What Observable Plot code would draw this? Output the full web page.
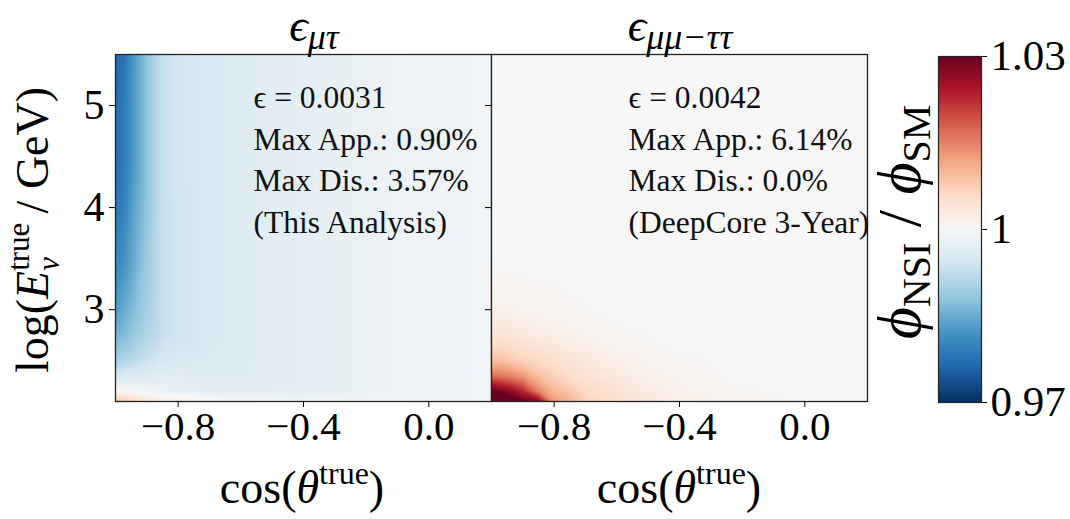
<!DOCTYPE html>
<html><head><meta charset="utf-8">
<script src="https://cdn.jsdelivr.net/npm/d3@7"></script>
<script src="https://cdn.jsdelivr.net/npm/@observablehq/plot@0.6"></script>
<style>
html,body{margin:0;padding:0;background:#fff;}
#wrap{position:relative;width:1070px;height:519px;overflow:hidden;font-family:"Liberation Serif",serif;}
#wrap svg{position:absolute;left:0;top:0;}
</style></head><body><div id="wrap"></div>
<script>
// ---- data ----
const cosGrid  = [-1.0, -0.97, -0.94, -0.9, -0.85, -0.8, -0.7, -0.55, -0.4, -0.2, 0.0, 0.2];
const logEGrid = [2.1, 2.2, 2.35, 2.5, 2.75, 3.0, 3.5, 4.0, 4.5, 5.0, 5.5];
// rows follow logEGrid (bottom -> top), columns follow cosGrid
const ratioMuTau = [
  [1.009, 1.008, 1.007, 1.005, 1.003, 1.002, 1.0005, 0.999, 0.9985, 0.9985, 0.999, 0.999],
  [1.000, 1.000, 0.9995, 0.999, 0.998, 0.9975, 0.997, 0.997, 0.997, 0.998, 0.9985, 0.999],
  [0.995, 0.9955, 0.996, 0.9965, 0.997, 0.997, 0.9965, 0.9965, 0.997, 0.998, 0.9985, 0.999],
  [0.990, 0.991, 0.992, 0.9935, 0.995, 0.9955, 0.996, 0.9965, 0.997, 0.998, 0.9985, 0.999],
  [0.986, 0.987, 0.989, 0.991, 0.993, 0.994, 0.9955, 0.9965, 0.997, 0.998, 0.9985, 0.999],
  [0.983, 0.985, 0.987, 0.990, 0.993, 0.994, 0.9955, 0.9965, 0.997, 0.998, 0.9985, 0.999],
  [0.980, 0.982, 0.985, 0.989, 0.993, 0.994, 0.9955, 0.9965, 0.997, 0.998, 0.9985, 0.999],
  [0.978, 0.980, 0.984, 0.988, 0.993, 0.994, 0.9955, 0.9965, 0.997, 0.998, 0.9985, 0.999],
  [0.977, 0.979, 0.983, 0.988, 0.993, 0.9945, 0.9955, 0.9965, 0.997, 0.998, 0.9985, 0.999],
  [0.977, 0.979, 0.983, 0.988, 0.993, 0.9945, 0.9955, 0.9965, 0.997, 0.998, 0.9985, 0.999],
  [0.976, 0.978, 0.983, 0.988, 0.993, 0.9945, 0.9955, 0.9965, 0.997, 0.998, 0.9985, 0.999]
];
const ratioMuMuTauTau = [
  [1.034, 1.033, 1.032, 1.030, 1.027, 1.013, 1.007, 1.004, 1.002, 1.001, 1.0, 1.0],
  [1.030, 1.029, 1.027, 1.023, 1.015, 1.010, 1.006, 1.003, 1.0015, 1.0005, 1.0, 1.0],
  [1.017, 1.016, 1.015, 1.013, 1.009, 1.007, 1.004, 1.002, 1.001, 1.0, 1.0, 1.0],
  [1.009, 1.009, 1.008, 1.007, 1.006, 1.005, 1.003, 1.0015, 1.0005, 1.0, 1.0, 1.0],
  [1.004, 1.004, 1.0035, 1.003, 1.0025, 1.002, 1.0012, 1.0005, 1.0, 1.0, 1.0, 1.0],
  [1.0015, 1.0015, 1.0015, 1.0012, 1.001, 1.0008, 1.0004, 1.0, 1.0, 1.0, 1.0, 1.0],
  [1.0, 1.0, 1.0, 1.0, 1.0, 1.0, 1.0, 1.0, 1.0, 1.0, 1.0, 1.0],
  [1.0, 1.0, 1.0, 1.0, 1.0, 1.0, 1.0, 1.0, 1.0, 1.0, 1.0, 1.0],
  [1.0, 1.0, 1.0, 1.0, 1.0, 1.0, 1.0, 1.0, 1.0, 1.0, 1.0, 1.0],
  [1.0, 1.0, 1.0, 1.0, 1.0, 1.0, 1.0, 1.0, 1.0, 1.0, 1.0, 1.0],
  [1.0, 1.0, 1.0, 1.0, 1.0, 1.0, 1.0, 1.0, 1.0, 1.0, 1.0, 1.0]
];
const xTicks = [-0.8, -0.4, 0.0];
const yTicks = [3, 4, 5];
const cbarTicks = [0.97, 1, 1.03];
const annotMuTau = ["ϵ = 0.0031", "Max App.: 0.90%", "Max Dis.: 3.57%", "(This Analysis)"];
const annotMuMu  = ["ϵ = 0.0042", "Max App.: 6.14%", "Max Dis.: 0.0%", "(DeepCore 3-Year)"];
// RdBu_r colour map stops (matplotlib style, linear segments)
const cmapStops  = [0.97, 0.976, 0.982, 0.988, 0.994, 1.0, 1.006, 1.012, 1.018, 1.024, 1.03];
const cmapColors = ["#053061","#2166ac","#4393c3","#92c5de","#d1e5f0","#f7f7f7","#fddbc7","#f4a582","#d6604d","#b2182b","#67001f"];

// ---- build ----
const W = 1070, H = 519;
const FONT = "'Liberation Serif', 'DejaVu Serif', serif";
const colorOpts = {type: "linear", domain: cmapStops, range: cmapColors, interpolate: "rgb", clamp: true};
const wrap = document.getElementById("wrap");

function toPoints(grid) {
  const pts = [];
  logEGrid.forEach((e, i) => cosGrid.forEach((c, j) => pts.push({cos: c, logE: e, v: grid[i][j]})));
  return pts;
}

function panel(grid, left, right, showY, lines) {
  return Plot.plot({
    width: W, height: H,
    marginLeft: left, marginRight: W - right, marginTop: 54, marginBottom: H - 401,
    x: {domain: [-1, 0.2]},
    y: {domain: [2.1, 5.5]},
    color: colorOpts,
    style: {background: "transparent", fontFamily: FONT, overflow: "visible", color: "#000"},
    marks: [
      Plot.raster(toPoints(grid), {x: "cos", y: "logE", fill: "v", interpolate: "barycentric"}),
      Plot.frame({stroke: "#222", strokeWidth: 1.3}),
      Plot.axisX({ticks: xTicks, tickFormat: d3.format(".1f"), fontSize: 41, tickSize: 6, tickPadding: 3, label: null}),
      Plot.axisY({ticks: yTicks, tickFormat: showY ? (d => String(d)) : (() => ""), fontSize: 42, tickSize: 6, tickPadding: 5, label: null}),
      Plot.text([lines.join("\n")], {frameAnchor: "top-left", dx: showY ? 138 : 137, dy: 24, fontSize: 31.5, lineHeight: 1.32, textAnchor: "start", lineAnchor: "top", fill: "#111"})
    ]
  });
}

wrap.appendChild(panel(ratioMuTau, 115, 491, true, annotMuTau));
wrap.appendChild(panel(ratioMuMuTauTau, 491, 867, false, annotMuMu));

// colorbar
wrap.appendChild(Plot.plot({
  width: W, height: H,
  marginLeft: 938, marginRight: W - 981, marginTop: 56, marginBottom: H - 402,
  x: {domain: [0, 1], axis: null},
  y: {domain: [0.97, 1.03]},
  color: colorOpts,
  style: {background: "transparent", fontFamily: FONT, overflow: "visible", color: "#000"},
  marks: [
    Plot.raster({fill: (x, y) => y, x1: 0, x2: 1, y1: 0.97, y2: 1.03}),
    Plot.frame({stroke: "#222", strokeWidth: 1.2}),
    Plot.axisY({anchor: "right", ticks: cbarTicks, tickFormat: d => d === 1 ? "1" : d3.format(".2f")(d), fontSize: 43, tickSize: 5, tickPadding: 4, label: null})
  ]
}));

// rich-text labels
const svg = d3.select(wrap).append("svg").attr("width", W).attr("height", H)
  .style("font-family", FONT).style("overflow", "visible");

function title(x, sub) {
  const t = svg.append("text").attr("x", x).attr("y", 41).attr("text-anchor", "middle");
  t.append("tspan").attr("font-size", 46).attr("font-style", "italic").text("ϵ");
  t.append("tspan").attr("font-size", 36).attr("font-style", "italic").attr("dy", 8).text(sub);
}
title(314, "μτ");
title(680, "μμ−ττ");

function cosLabel(x) {
  const t = svg.append("text").attr("x", x).attr("y", 503).attr("text-anchor", "middle").attr("font-size", 46);
  t.append("tspan").text("cos(");
  t.append("tspan").attr("font-style", "italic").text("θ");
  t.append("tspan").attr("font-size", 32).attr("dy", -19).text("true");
  t.append("tspan").attr("dy", 19).text(")");
}
cosLabel(302);
cosLabel(679);

// y label
{
  const t = svg.append("text").attr("transform", "translate(48,230) rotate(-90)").attr("text-anchor", "middle").attr("font-size", 46);
  t.append("tspan").text("log(");
  t.append("tspan").attr("font-style", "italic").text("E");
  t.append("tspan").attr("font-size", 31).attr("dy", -19).text("true");
  t.append("tspan").attr("font-size", 31).attr("font-style", "italic").attr("dx", -48).attr("dy", 30).text("ν");
  t.append("tspan").attr("dx", 32).attr("dy", -11).text(" / GeV)");
}
// colorbar label
{
  const t = svg.append("text").attr("transform", "translate(920,222) rotate(-90)").attr("text-anchor", "middle").attr("font-size", 62);
  t.append("tspan").attr("font-style", "italic").text("ϕ");
  t.append("tspan").attr("font-size", 40).attr("dy", 10).text("NSI");
  t.append("tspan").attr("dy", -10).text(" / ");
  t.append("tspan").attr("font-style", "italic").text("ϕ");
  t.append("tspan").attr("font-size", 40).attr("dy", 10).text("SM");
}
</script></body></html>
